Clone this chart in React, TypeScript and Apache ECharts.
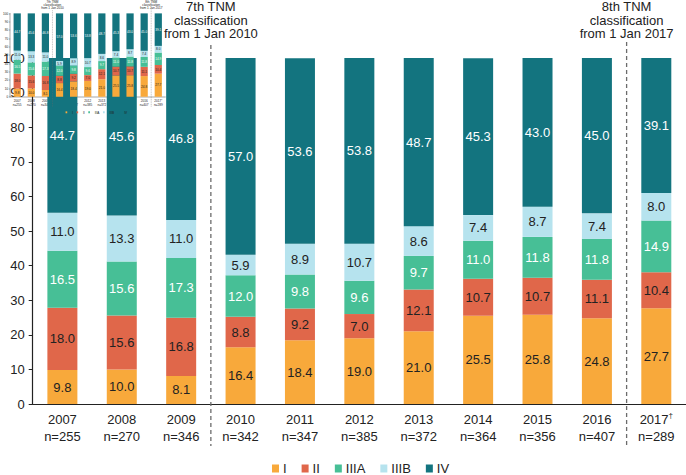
import React, { useEffect, useRef } from "react";
import * as echarts from "echarts";

const years = ["2007", "2008", "2009", "2010", "2011", "2012", "2013", "2014", "2015", "2016", "2017"];
const counts = [255, 270, 346, 342, 347, 385, 372, 364, 356, 407, 289];
const stageNames = ["I", "II", "IIIA", "IIIB", "IV"];
const stageI = [9.8, 10.0, 8.1, 16.4, 18.4, 19.0, 21.0, 25.5, 25.8, 24.8, 27.7];
const stageII = [18.0, 15.6, 16.8, 8.8, 9.2, 7.0, 12.1, 10.7, 10.7, 11.1, 10.4];
const stageIIIA = [16.5, 15.6, 17.3, 12.0, 9.8, 9.6, 9.7, 11.0, 11.8, 11.8, 14.9];
const stageIIIB = [11.0, 13.3, 11.0, 5.9, 8.9, 10.7, 8.6, 7.4, 8.7, 7.4, 8.0];
const stageIV = [44.7, 45.6, 46.8, 57.0, 53.6, 53.8, 48.7, 45.3, 43.0, 45.0, 39.1];
const stageColors = ["#F8A93B", "#E0674A", "#47BF96", "#B6E3EE", "#13747F"];
const labelColors = ["#222222", "#222222", "#ffffff", "#222222", "#ffffff"];
const daggerYearIndex = 10;
const annotationTexts = [
  "7th TNM\nclassification\nfrom 1 Jan 2010",
  "8th TNM\nclassification\nfrom 1 Jan 2017",
];
// boundaries between categories where the classification changes
const boundaries = [
  [2, 3],
  [9, 10],
];

const FONT = "'Liberation Sans', Arial, Helvetica, sans-serif";
const stageData = [stageI, stageII, stageIIIA, stageIIIB, stageIV];

function layer(k: number, s: number, oy: number) {
  const axisColor = "#222";
  return {
    grid: { left: 30 * s, top: 58 * s + oy, width: 656 * s, height: 346 * s, containLabel: false },
    xAxis: {
      type: "category",
      gridIndex: k,
      data: years,
      axisLine: { show: true, lineStyle: { color: axisColor, width: Math.max(0.4, 1.2 * s) } },
      axisTick: { show: false },
      axisLabel: {
        fontSize: 13 * s,
        lineHeight: 17 * s,
        margin: 7 * s,
        color: "#222",
        fontFamily: FONT,
        interval: 0,
        formatter: (v: string, i: number) =>
          i === daggerYearIndex ? `${v}{d|†}\nn=${counts[i]}` : `${v}\nn=${counts[i]}`,
        rich: {
          d: { fontSize: 8 * s, verticalAlign: "top", lineHeight: 9 * s, color: "#222", fontFamily: FONT },
        },
      },
    },
    yAxis: {
      type: "value",
      gridIndex: k,
      min: 0,
      max: 100,
      interval: 10,
      axisLine: { show: true, lineStyle: { color: axisColor, width: Math.max(0.4, 1.2 * s) } },
      axisTick: { show: true, length: 4 * s, lineStyle: { color: axisColor, width: Math.max(0.4, 1 * s) } },
      splitLine: { show: false },
      axisLabel: { fontSize: 13 * s, margin: 8 * s, color: "#222", fontFamily: FONT },
    },
    series: stageNames.map((name, i) => ({
      name,
      type: "bar",
      stack: "total" + k,
      xAxisIndex: k,
      yAxisIndex: k,
      data: stageData[i],
      barWidth: 30 * s,
      itemStyle: { color: stageColors[i] },
      emphasis: { disabled: true },
      label: {
        show: true,
        position: "inside",
        color: labelColors[i],
        fontSize: 13 * s,
        fontFamily: FONT,
        formatter: (p: any) => Number(p.value).toFixed(1),
      },
    })),
    legend: {
      data: stageNames,
      left: 272 * s,
      top: 462 * s + oy,
      padding: 0,
      itemWidth: 7 * s,
      itemHeight: 8 * s,
      itemGap: 15 * s,
      icon: "rect",
      selectedMode: false,
      textStyle: {
        fontSize: 13 * s,
        lineHeight: 13 * s,
        color: "#222",
        fontFamily: FONT,
        padding: [0, 0, 0, -1 * s],
      },
    },
  };
}

const MINI_S = 0.241;
const MINI_OY = -0.6;

export default function App() {
  const ref = useRef<HTMLDivElement>(null);
  useEffect(() => {
    if (!ref.current) return;
    const chart = echarts.init(ref.current, undefined, { renderer: "svg" });
    const main = layer(0, 1, 0);
    const mini = layer(1, MINI_S, MINI_OY);
    chart.setOption({
      animation: false,
      backgroundColor: "#ffffff",
      textStyle: { fontFamily: FONT },
      grid: [main.grid, mini.grid],
      xAxis: [main.xAxis, mini.xAxis],
      yAxis: [main.yAxis, mini.yAxis],
      legend: [main.legend, mini.legend],
      series: [...main.series, ...mini.series],
    });

    const graphics: any[] = [];
    const addAnnotations = (k: number, s: number, oy: number, z: number) => {
      boundaries.forEach(([a, b], j) => {
        const xa = chart.convertToPixel({ xAxisIndex: k }, years[a]) as number;
        const xb = chart.convertToPixel({ xAxisIndex: k }, years[b]) as number;
        const x = (xa + xb) / 2;
        graphics.push({
          type: "line",
          z,
          shape: { x1: x, y1: (j === 0 ? 45 : 42) * s + oy, x2: x, y2: 446 * s + oy },
          style: { stroke: "#6b6b6b", lineWidth: Math.max(0.4, 1.3 * s), lineDash: [4 * s, 3 * s] },
        });
        graphics.push({
          type: "text",
          z,
          x,
          y: Math.max(0, 0 * s + oy),
          style: {
            text: annotationTexts[j],
            align: "center",
            verticalAlign: "top",
            fontSize: 13 * s,
            lineHeight: 13.5 * s,
            fontFamily: FONT,
            fill: "#222",
          },
        });
      });
    };
    addAnnotations(0, 1, 0, 1);
    addAnnotations(1, MINI_S, MINI_OY, 100);
    chart.setOption({ graphic: graphics });

    return () => chart.dispose();
  }, []);
  return (
    <div
      ref={ref}
      style={{ position: "absolute", left: 0, top: 0, width: 686, height: 475 }}
    />
  );
}
